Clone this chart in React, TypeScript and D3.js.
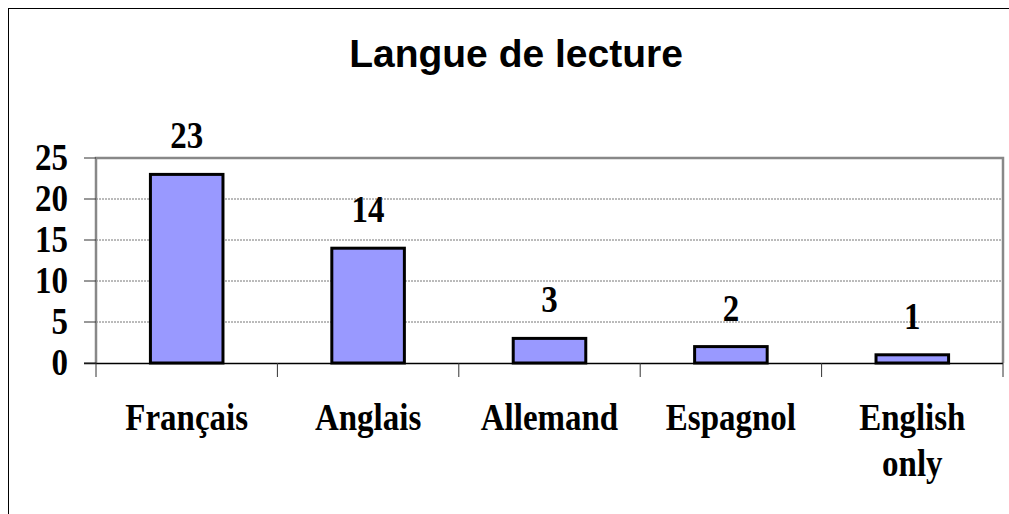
import * as d3 from "d3";

const categories = ["Français", "Anglais", "Allemand", "Espagnol", "English only"];
const values = [23, 14, 3, 2, 1];
const yTicks = [0, 5, 10, 15, 20, 25];
const title = "Langue de lecture";

const W = 1009;
const H = 514;
const plot = { left: 96, right: 1003, top: 158, bottom: 363 };
const serif = "'Liberation Serif', 'Times New Roman', serif";
const sans = "'Liberation Sans', Arial, sans-serif";
const stretch = 1.12; // reference glyphs look a bit taller than wide

function Label({ x, y, anchor = "middle", children }: { x: number; y: number; anchor?: string; children: any }) {
    return (
        <text
            transform={`translate(${x},${y}) scale(1,${stretch})`}
            textAnchor={anchor}
            fontFamily={serif}
            fontWeight="bold"
            fontSize={33}
        >
            {children}
        </text>
    );
}

export default function App() {
    const x = d3
        .scaleBand<string>()
        .domain(categories)
        .range([plot.left, plot.right])
        .paddingInner(0.6)
        .paddingOuter(0.3);
    const y = d3.scaleLinear().domain([0, 25]).range([plot.bottom, plot.top]);

    const gap = (x.step() - x.bandwidth()) / 2;
    // category boundaries for the x-axis tick marks
    const bounds = categories.map((c) => (x(c) as number) - gap);
    bounds.push(plot.right);
    const cx = (c: string) => (x(c) as number) + x.bandwidth() / 2;

    return (
        <svg
            width={W}
            height={H}
            style={{ position: "absolute", left: 0, top: 0, background: "white" }}
        >
            <rect x={8.5} y={8.5} width={1100} height={600} fill="white" stroke="#000" strokeWidth={1} />

            <text x={516} y={67} textAnchor="middle" fontFamily={sans} fontWeight="bold" fontSize={39}>
                {title}
            </text>

            {/* gridlines */}
            {yTicks.filter((t) => t > 0 && t < 25).map((t) => (
                <line
                    key={t}
                    x1={plot.left}
                    x2={plot.right}
                    y1={y(t)}
                    y2={y(t)}
                    stroke="#777"
                    strokeWidth={1}
                    strokeDasharray="2,1"
                />
            ))}

            {/* plot frame */}
            <path
                d={`M${plot.left},${plot.bottom} V${plot.top} H${plot.right} V${plot.bottom}`}
                fill="none"
                stroke="#888"
                strokeWidth={2.5}
            />

            {/* bars */}
            {categories.map((c, i) => (
                <rect
                    key={c}
                    x={x(c)}
                    y={y(values[i])}
                    width={x.bandwidth()}
                    height={y(0) - y(values[i])}
                    fill="#9999FF"
                    stroke="#000"
                    strokeWidth={3}
                />
            ))}

            {/* value labels */}
            {categories.map((c, i) => (
                <Label key={c} x={cx(c)} y={y(values[i]) - 26}>
                    {values[i]}
                </Label>
            ))}

            {/* x axis */}
            <line x1={84} x2={plot.right} y1={plot.bottom + 0.5} y2={plot.bottom + 0.5} stroke="#000" strokeWidth={1.5} />
            {bounds.map((b, i) => (
                <line key={i} x1={b} x2={b} y1={plot.bottom} y2={plot.bottom + 14} stroke="#333" strokeWidth={1} />
            ))}
            {categories.map((c) => {
                const lines = c === "English only" ? ["English", "only"] : [c];
                return lines.map((l, j) => (
                    <Label key={c + j} x={cx(c)} y={430 + j * 46}>
                        {l}
                    </Label>
                ));
            })}

            {/* y axis */}
            {yTicks.map((t) => (
                <g key={t}>
                    <line x1={84} x2={plot.left} y1={y(t)} y2={y(t)} stroke="#333" strokeWidth={1} />
                    <Label x={68} y={y(t) + 12} anchor="end">
                        {t}
                    </Label>
                </g>
            ))}
        </svg>
    );
}
